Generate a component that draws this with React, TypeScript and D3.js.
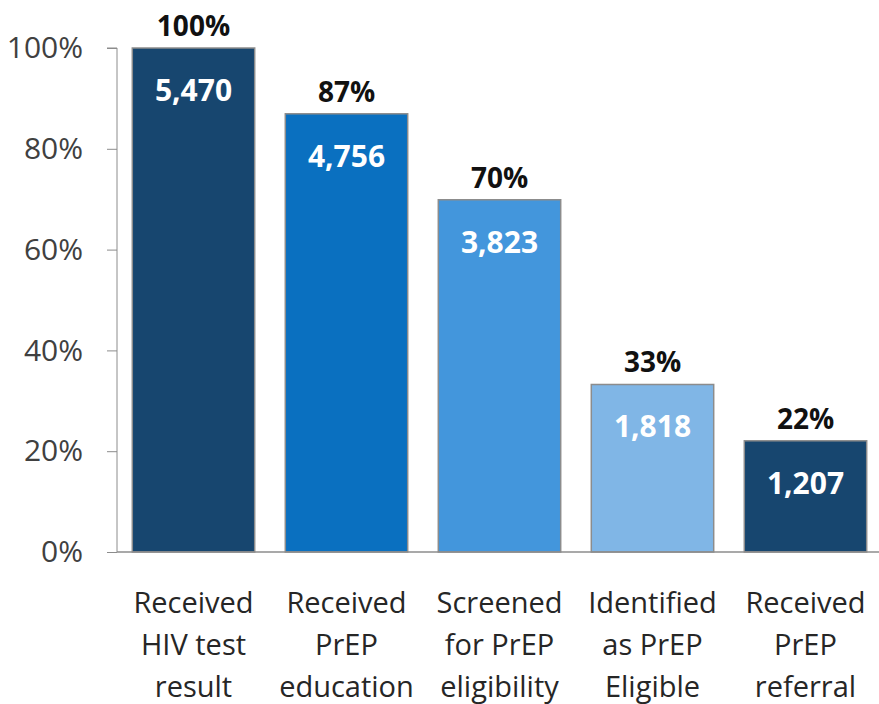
import React, { useRef, useEffect } from 'react';
import * as d3 from 'd3';

const categories = [
  ['Received', 'HIV test', 'result'],
  ['Received', 'PrEP', 'education'],
  ['Screened', 'for PrEP', 'eligibility'],
  ['Identified', 'as PrEP', 'Eligible'],
  ['Received', 'PrEP', 'referral'],
];
const counts = [5470, 4756, 3823, 1818, 1207];
const percentLabels = ['100%', '87%', '70%', '33%', '22%'];
const barColors = ['#17466f', '#0a70c0', '#4396dc', '#80b6e6', '#17466f'];
const yTicks = [0, 20, 40, 60, 80, 100];

const FONT = '"Open Sans", "Noto Sans", sans-serif';

function App() {
  const ref = useRef<SVGSVGElement>(null);

  useEffect(() => {
    const svg = d3.select(ref.current);
    svg.selectAll('*').remove();

    const left = 117, right = 882, top = 48, bottom = 552;
    const total = counts[0];

    const x = d3.scaleBand<number>()
      .domain(counts.map((_, i) => i))
      .range([left, right])
      .paddingInner(0.2)
      .paddingOuter(0.1);

    const y = d3.scaleLinear().domain([0, 100]).range([bottom, top]);

    // y axis
    const yAxis = svg.append('g')
      .attr('transform', `translate(${left},0)`)
      .call(d3.axisLeft(y).tickValues(yTicks).tickSize(10).tickPadding(24).tickFormat(d => `${d}%`));
    yAxis.select('.domain').attr('stroke', '#8c8c8c').attr('d', `M-10,${top}H0V${bottom}`);
    yAxis.selectAll('.tick line').attr('stroke', '#8c8c8c');
    yAxis.selectAll('.tick text')
      .attr('font-family', FONT)
      .attr('font-size', 30)
      .attr('fill', '#404040');

    // bars
    svg.append('g').selectAll('rect')
      .data(counts)
      .enter().append('rect')
      .attr('x', (_, i) => x(i)!)
      .attr('y', d => y((d / total) * 100))
      .attr('width', x.bandwidth())
      .attr('height', d => bottom - y((d / total) * 100))
      .attr('fill', (_, i) => barColors[i])
      .attr('stroke', '#8c8c8c')
      .attr('stroke-width', 1.5);

    // x baseline
    svg.append('line')
      .attr('x1', left).attr('x2', 879)
      .attr('y1', bottom).attr('y2', bottom)
      .attr('stroke', '#8c8c8c').attr('stroke-width', 1.5);

    // percent labels
    svg.append('g').selectAll('text')
      .data(counts)
      .enter().append('text')
      .attr('x', (_, i) => x(i)! + x.bandwidth() / 2)
      .attr('y', d => y((d / total) * 100) - 12)
      .attr('text-anchor', 'middle')
      .attr('font-family', FONT)
      .attr('font-weight', 'bold')
      .attr('font-size', 28)
      .attr('fill', '#111')
      .text((_, i) => percentLabels[i]);

    // count labels
    svg.append('g').selectAll('text')
      .data(counts)
      .enter().append('text')
      .attr('x', (_, i) => x(i)! + x.bandwidth() / 2)
      .attr('y', d => y((d / total) * 100) + 53)
      .attr('text-anchor', 'middle')
      .attr('font-family', FONT)
      .attr('font-weight', 'bold')
      .attr('font-size', 30)
      .attr('fill', '#fff')
      .text(d => d3.format(',')(d));

    // category labels
    const cat = svg.append('g').selectAll('text')
      .data(categories)
      .enter().append('text')
      .attr('x', (_, i) => x(i)! + x.bandwidth() / 2)
      .attr('y', 613)
      .attr('text-anchor', 'middle')
      .attr('font-family', FONT)
      .attr('font-size', 29)
      .attr('fill', '#262626');
    cat.selectAll('tspan')
      .data(d => d)
      .enter().append('tspan')
      .attr('x', function () { return (this as any).parentNode.getAttribute('x'); })
      .attr('dy', (_, j) => (j === 0 ? 0 : 42))
      .text(d => d);
  }, []);

  return (
    <svg ref={ref} width={879} height={704} style={{ position: 'absolute', left: 0, top: 0 }} />
  );
}

export default App;
